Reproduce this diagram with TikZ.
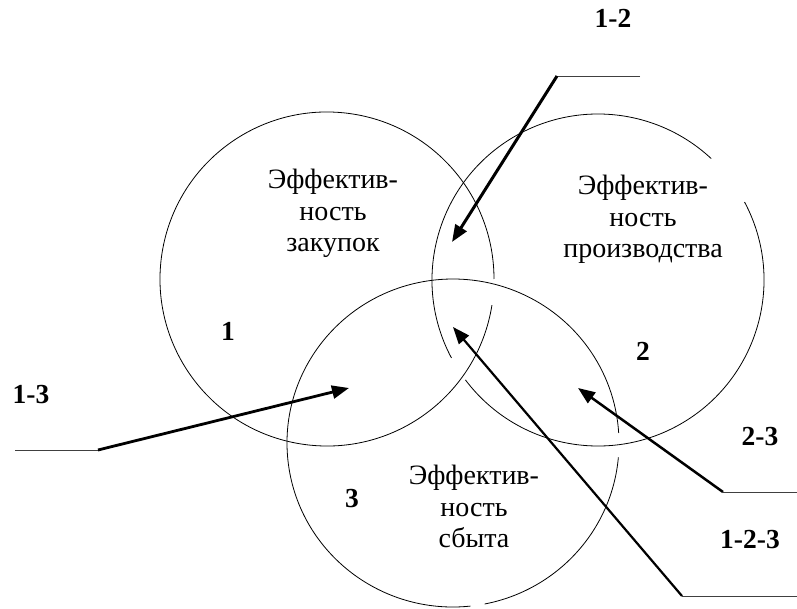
\documentclass[tikz,border=0pt]{standalone}
\usepackage{fontspec}
\setmainfont{Liberation Serif}
\usetikzlibrary{arrows.meta}
\begin{document}
\begin{tikzpicture}[x=1pt,y=-1pt,
  ring/.style={line width=0.8pt},
  zone/.style={font=\fontsize{28pt}{31.5pt}\selectfont, align=center, inner sep=0pt},
  tag/.style={font=\fontsize{27.5pt}{31.5pt}\selectfont\bfseries, inner sep=0pt, anchor=base},
  leader/.style={line width=0.9pt, black!75},
  pointer/.style={line width=2.6pt, -{Triangle[length=17pt,width=13pt]}}]
\useasboundingbox (0,0) rectangle (797,609);

% circles (with the small breaks of the original)
\draw[ring] (327,279) ++(9:167) arc[start angle=9, end angle=360, radius=167];
\draw[ring] (598,280) ++(-28:166) arc[start angle=-28, end angle=143, radius=166];
\draw[ring] (598,280) ++(152:166) arc[start angle=152, end angle=313, radius=166];
\draw[ring] (453,443) ++({166*cos(5)},{164*sin(5)}) arc[start angle=5, end angle=79, x radius=166, y radius=164];
\draw[ring] (453,443) ++({166*cos(84)},{164*sin(84)}) arc[start angle=84, end angle=356.5, x radius=166, y radius=164];

% texts in circles
\node[zone] (z1) at (333,214) {\strut Эффектив-\\\strut ность\\\strut закупок};
\node[zone] (z2) at (643,220) {\strut Эффектив-\\\strut ность\\\strut производства};
\node[zone] (z3) at (474,510) {\strut Эффектив-\\\strut ность\\\strut сбыта};

% labels
\node[tag] (l12) at (613,28) {1-2};
\node[tag] (l1) at (228,340) {1};
\node[tag] (l13) at (31,403) {1-3};
\node[tag] (l2) at (643,360) {2};
\node[tag] (l3) at (352,507) {3};
\node[tag] (l23) at (760,445) {2-3};
\node[tag] (l123) at (750,548) {1-2-3};

% leader coordinates
\coordinate (e12) at (640,76);  \coordinate (s12) at (557,76);  \coordinate (t12) at (452,242);
\coordinate (e13) at (15,450);  \coordinate (s13) at (98,450);  \coordinate (t13) at (349,388);
\coordinate (e23) at (797,492); \coordinate (s23) at (723,492); \coordinate (t23) at (578,388);
\coordinate (e123) at (797,596); \coordinate (s123) at (682,596); \coordinate (t123) at (453,327);

\draw[leader] (e12) -- (s12);
\draw[leader] (e13) -- (s13);
\draw[leader] (e23) -- (s23);
\draw[leader] (e123) -- (s123);

\draw[pointer, line width=3pt] (s12) -- (t12);
\draw[pointer, line width=2.8pt] (s13) -- (t13);
\draw[pointer, line width=2.5pt] (s23) -- (t23);
\draw[pointer, line width=2.2pt] (s123) -- (t123);
\end{tikzpicture}
\end{document}
